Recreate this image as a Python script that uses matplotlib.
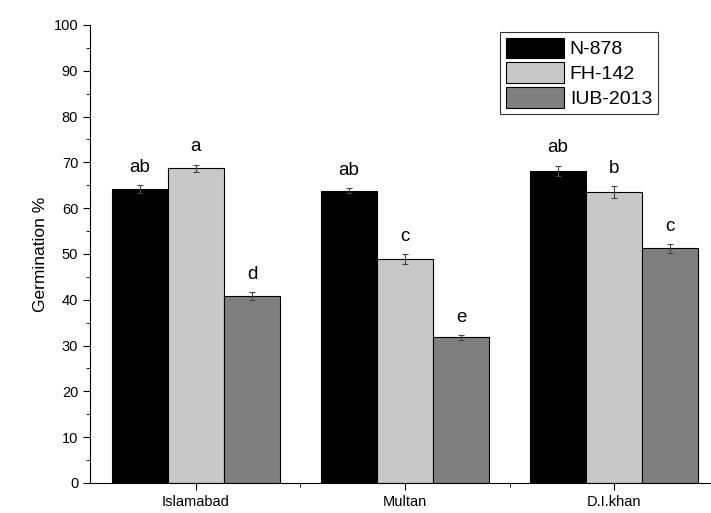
import numpy as np
import matplotlib.pyplot as plt
from matplotlib.ticker import MultipleLocator

plt.rcParams['font.family'] = ['Liberation Sans', 'DejaVu Sans']

# data
sites = ['Islamabad', 'Multan', 'D.I.khan']
varieties = ['N-878', 'FH-142', 'IUB-2013']
germ = [
    [64.2, 63.8, 68.2],   # N-878
    [68.7, 48.9, 63.5],   # FH-142
    [40.8, 31.8, 51.2],   # IUB-2013
]
err = [
    [0.8, 0.6, 1.1],
    [0.8, 1.0, 1.3],
    [0.9, 0.5, 0.9],
]
letters = [
    ['ab', 'ab', 'ab'],
    ['a', 'c', 'b'],
    ['d', 'e', 'c'],
]
colors = ['#000000', '#c8c8c8', '#7f7f7f']

fig = plt.figure(figsize=(7.11, 5.13), dpi=100)
ax = fig.add_axes([0.1266, 0.0585, 0.8734, 0.893])

x = np.arange(len(sites))
w = 0.268
for i, var in enumerate(varieties):
    pos = x + (i - 1) * w
    ax.bar(pos, germ[i], w, color=colors[i], edgecolor='black', linewidth=0.8,
           label=var, yerr=err[i], capsize=2.5,
           error_kw=dict(ecolor='#444444', elinewidth=0.8, capthick=0.8))
    for p, v, e, t in zip(pos, germ[i], err[i], letters[i]):
        ax.text(p, v + e + 2.0, t, ha='center', va='bottom', fontsize=13.5)

ax.set_xlim(-0.507, 2.464)
ax.set_ylim(0, 100)
ax.set_xticks(x)
ax.set_xticklabels(sites, fontsize=10.5)
ax.xaxis.set_minor_locator(plt.FixedLocator([0.5, 1.5]))
ax.yaxis.set_major_locator(MultipleLocator(10))
ax.yaxis.set_minor_locator(MultipleLocator(5))
ax.tick_params(axis='y', labelsize=10.5, length=5, direction='out')
ax.tick_params(axis='y', which='minor', length=3, direction='out')
ax.tick_params(axis='x', length=5, direction='out')
ax.tick_params(axis='x', which='minor', length=3, direction='out')
ax.set_ylabel('Germination %', fontsize=12.5)

for s in ['top', 'right']:
    ax.spines[s].set_visible(False)

leg = ax.legend(loc='upper left', bbox_to_anchor=(0.66, 0.985), fontsize=14,
                frameon=True, fancybox=False, edgecolor='black',
                handlelength=3.0, handleheight=1.25, handletextpad=0.3,
                labelspacing=0.2, borderpad=0.3, borderaxespad=0)
leg.get_frame().set_linewidth(0.8)

fig.savefig('out.png', dpi=100)
